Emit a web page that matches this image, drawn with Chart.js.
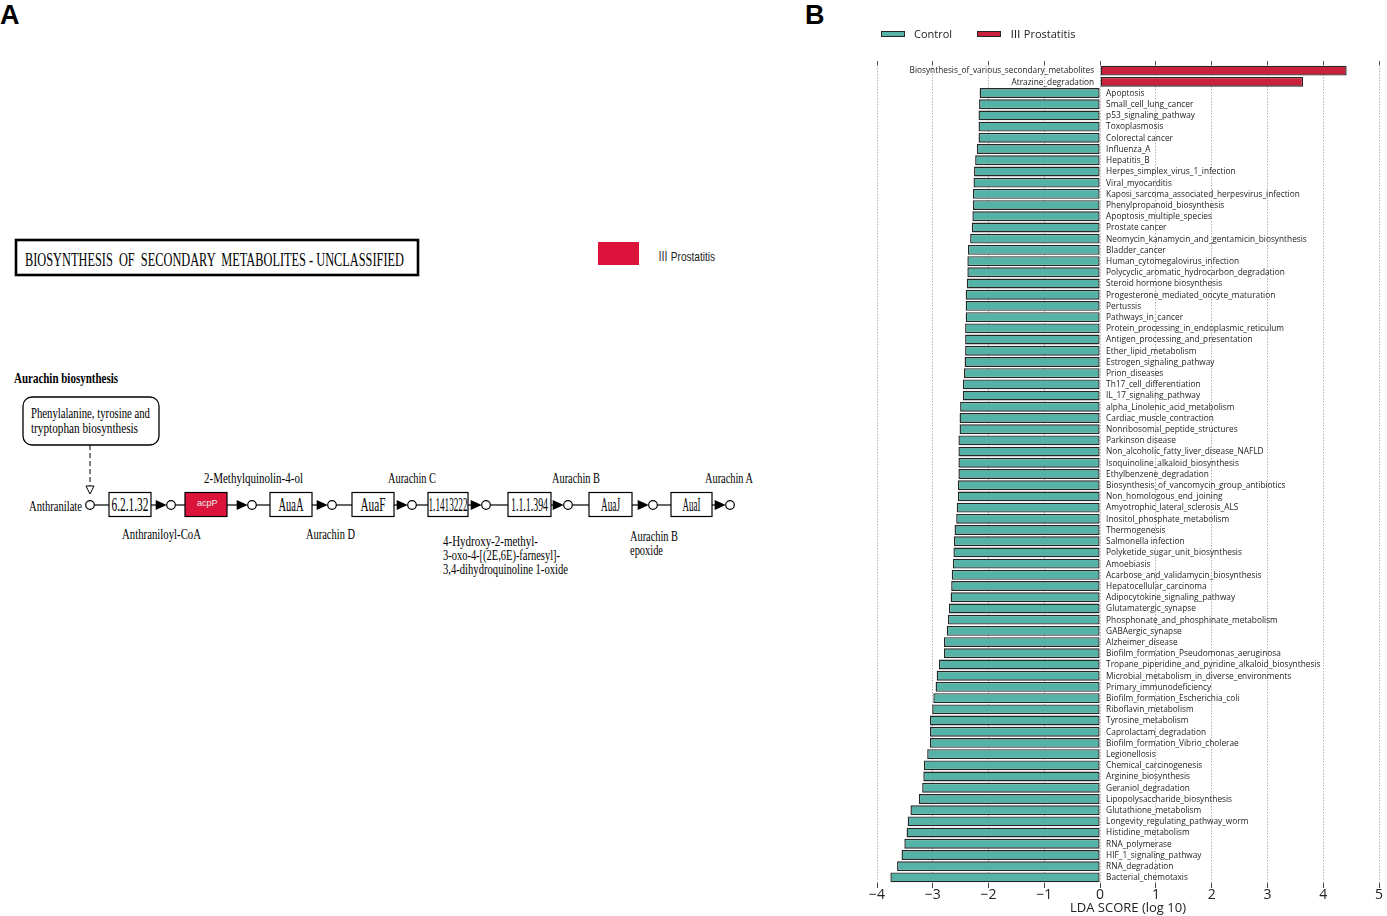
<!DOCTYPE html>
<html>
<head>
<meta charset="utf-8">
<script src="https://cdn.jsdelivr.net/npm/chart.js@4.4.1/dist/chart.umd.min.js"></script>
<style>
  html, body { margin: 0; padding: 0; background: #fff; }
  body { width: 1387px; height: 916px; position: relative; overflow: hidden; }
  #panelA { position: absolute; left: 0; top: 0; }
  #panelA text { white-space: pre; }
  #wrapB { position: absolute; left: 830px; top: 0; width: 557px; height: 916px; }
</style>
</head>
<body>

<svg id="panelA" width="830" height="916" xmlns="http://www.w3.org/2000/svg"
     font-family="'Liberation Serif', 'Times New Roman', serif">
  <text x="0" y="24" font-family="'Liberation Sans', Arial, sans-serif" font-weight="bold" font-size="27">A</text>
  <text x="805" y="24" font-family="'Liberation Sans', Arial, sans-serif" font-weight="bold" font-size="27">B</text>

  <!-- map title -->
  <rect x="16" y="240" width="402" height="35" fill="none" stroke="#000" stroke-width="2.6"/>
  <text x="25" y="266" font-size="19" textLength="379" lengthAdjust="spacingAndGlyphs">BIOSYNTHESIS  OF  SECONDARY  METABOLITES - UNCLASSIFIED</text>

  <!-- group key -->
  <rect x="598" y="242" width="41" height="23" fill="#DC143C"/>
  <text x="658" y="261" font-family="'Liberation Sans', 'Noto Sans CJK SC', Arial, sans-serif" font-size="13" textLength="57" lengthAdjust="spacingAndGlyphs" fill="#222">Ⅲ Prostatitis</text>

  <text x="14" y="383" font-size="14" font-weight="bold" textLength="104" lengthAdjust="spacingAndGlyphs">Aurachin biosynthesis</text>
  <rect x="23" y="397" width="136" height="48" rx="9" fill="none" stroke="#000" stroke-width="1.3"/>
  <text x="31" y="418" font-size="15" textLength="119" lengthAdjust="spacingAndGlyphs">Phenylalanine, tyrosine and</text>
  <text x="31" y="433" font-size="15" textLength="107" lengthAdjust="spacingAndGlyphs">tryptophan biosynthesis</text>
  <line x1="90" y1="445" x2="90" y2="486" stroke="#000" stroke-width="1" stroke-dasharray="5,3"/>
  <polygon points="86,486 94,486 90,494" fill="#fff" stroke="#000" stroke-width="1"/>

  <g id="chain"></g>

  <g font-size="14.5">
    <text x="29" y="511" textLength="53" lengthAdjust="spacingAndGlyphs">Anthranilate</text>
    <text x="204" y="483" textLength="99" lengthAdjust="spacingAndGlyphs">2-Methylquinolin-4-ol</text>
    <text x="122" y="539" textLength="79" lengthAdjust="spacingAndGlyphs">Anthraniloyl-CoA</text>
    <text x="306" y="539" textLength="49" lengthAdjust="spacingAndGlyphs">Aurachin D</text>
    <text x="388" y="483" textLength="48" lengthAdjust="spacingAndGlyphs">Aurachin C</text>
    <text x="552" y="483" textLength="48" lengthAdjust="spacingAndGlyphs">Aurachin B</text>
    <text x="705" y="483" textLength="48" lengthAdjust="spacingAndGlyphs">Aurachin A</text>
    <text x="443" y="546" textLength="95" lengthAdjust="spacingAndGlyphs">4-Hydroxy-2-methyl-</text>
    <text x="443" y="560" textLength="117" lengthAdjust="spacingAndGlyphs">3-oxo-4-[(2E,6E)-farnesyl]-</text>
    <text x="443" y="574" textLength="125" lengthAdjust="spacingAndGlyphs">3,4-dihydroquinoline 1-oxide</text>
    <text x="630" y="541" textLength="48" lengthAdjust="spacingAndGlyphs">Aurachin B</text>
    <text x="630" y="555" textLength="33" lengthAdjust="spacingAndGlyphs">epoxide</text>
  </g>
</svg>

<div id="wrapB"><canvas id="ldaChart"></canvas></div>

<script>
// ---------------------- Data ----------------------
const prostatitisPathways = [
  "Biosynthesis_of_various_secondary_metabolites",
  "Atrazine_degradation"
];
const prostatitisScores = [4.42, 3.64];

const controlPathways = [
  "Apoptosis", "Small_cell_lung_cancer", "p53_signaling_pathway", "Toxoplasmosis",
  "Colorectal cancer", "Influenza_A", "Hepatitis_B", "Herpes_simplex_virus_1_infection",
  "Viral_myocarditis", "Kaposi_sarcoma_associated_herpesvirus_infection",
  "Phenylpropanoid_biosynthesis", "Apoptosis_multiple_species", "Prostate cancer",
  "Neomycin_kanamycin_and_gentamicin_biosynthesis", "Bladder_cancer",
  "Human_cytomegalovirus_infection", "Polycyclic_aromatic_hydrocarbon_degradation",
  "Steroid hormone biosynthesis", "Progesterone_mediated_oocyte_maturation", "Pertussis",
  "Pathways_in_cancer", "Protein_processing_in_endoplasmic_reticulum",
  "Antigen_processing_and_presentation", "Ether_lipid_metabolism",
  "Estrogen_signaling_pathway", "Prion_diseases", "Th17_cell_differentiation",
  "IL_17_signaling_pathway", "alpha_Linolenic_acid_metabolism", "Cardiac_muscle_contraction",
  "Nonribosomal_peptide_structures", "Parkinson disease",
  "Non_alcoholic_fatty_liver_disease_NAFLD", "Isoquinoline_alkaloid_biosynthesis",
  "Ethylbenzene_degradation", "Biosynthesis_of_vancomycin_group_antibiotics",
  "Non_homologous_end_joining", "Amyotrophic_lateral_sclerosis_ALS",
  "Inositol_phosphate_metabolism", "Thermogenesis", "Salmonella infection",
  "Polyketide_sugar_unit_biosynthesis", "Amoebiasis", "Acarbose_and_validamycin_biosynthesis",
  "Hepatocellular_carcinoma", "Adipocytokine_signaling_pathway", "Glutamatergic_synapse",
  "Phosphonate_and_phosphinate_metabolism", "GABAergic_synapse", "Alzheimer_disease",
  "Biofilm_formation_Pseudomonas_aeruginosa",
  "Tropane_piperidine_and_pyridine_alkaloid_biosynthesis",
  "Microbial_metabolism_in_diverse_environments", "Primary_immunodeficiency",
  "Biofilm_formation_Escherichia_coli", "Riboflavin_metabolism", "Tyrosine_metabolism",
  "Caprolactam_degradation", "Biofilm_formation_Vibrio_cholerae", "Legionellosis",
  "Chemical_carcinogenesis", "Arginine_biosynthesis", "Geraniol_degradation",
  "Lipopolysaccharide_biosynthesis", "Glutathione_metabolism",
  "Longevity_regulating_pathway_worm", "Histidine_metabolism", "RNA_polymerase",
  "HIF_1_signaling_pathway", "RNA_degradation", "Bacterial_chemotaxis"
];
const controlScores = [
  -2.16, -2.17, -2.18, -2.18, -2.18, -2.21, -2.24, -2.26, -2.27, -2.28,
  -2.28, -2.29, -2.30, -2.33, -2.37, -2.38, -2.38, -2.39, -2.41, -2.41,
  -2.41, -2.42, -2.42, -2.42, -2.43, -2.44, -2.46, -2.46, -2.51, -2.52,
  -2.52, -2.54, -2.54, -2.54, -2.54, -2.55, -2.55, -2.57, -2.58, -2.61,
  -2.62, -2.63, -2.64, -2.66, -2.67, -2.68, -2.71, -2.73, -2.75, -2.80,
  -2.80, -2.89, -2.93, -2.95, -2.99, -3.01, -3.05, -3.05, -3.05, -3.10,
  -3.16, -3.17, -3.19, -3.25, -3.40, -3.45, -3.47, -3.51, -3.56, -3.64,
  -3.76
];

const groupNames = ["Control", "Ⅲ Prostatitis"];
const xTickValues = [-4, -3, -2, -1, 0, 1, 2, 3, 4, 5];

// ---------------------- Styles ----------------------
const TEAL = "#54B3A6";
const CRIMSON = "#C9203C";
const EDGE = "#262626";
const SANS = '"Open Sans", "Noto Sans CJK SC", sans-serif';

// ---------------------- Panel A: pathway chain ----------------------
(function drawChain() {
  const NS = "http://www.w3.org/2000/svg";
  const g = document.getElementById("chain");
  const mk = (tag, attrs, text) => {
    const el = document.createElementNS(NS, tag);
    for (const k in attrs) el.setAttribute(k, attrs[k]);
    if (text) el.textContent = text;
    g.appendChild(el);
    return el;
  };
  const cy = 505;
  const r = 4.3;
  const nodes = [90, 171, 252, 332, 412, 486, 568, 653, 730];
  const boxes = [
    { x: 109, w: 42, t: "6.2.1.32", len: 37 },
    { x: 185, w: 42, t: "acpP", hit: true },
    { x: 270, w: 42, t: "AuaA", len: 25 },
    { x: 352, w: 42, t: "AuaF", len: 25 },
    { x: 428, w: 40, t: "1.1413222", len: 39 },
    { x: 508, w: 43, t: "1.1.1.394", len: 37 },
    { x: 589, w: 43, t: "AuaJ", len: 19 },
    { x: 671, w: 41, t: "AuaI", len: 18 }
  ];
  boxes.forEach((b, i) => {
    const a = nodes[i], nxt = nodes[i + 1];
    mk("line", { x1: a + r, y1: cy, x2: b.x, y2: cy, stroke: "#000", "stroke-width": 1.2 });
    mk("line", { x1: b.x + b.w, y1: cy, x2: nxt - r - 9, y2: cy, stroke: "#000", "stroke-width": 1.2 });
    mk("polygon", { points: `${nxt - r - 11},${cy - 5} ${nxt - r - 11},${cy + 5} ${nxt - r},${cy}`, fill: "#000" });
    mk("rect", { x: b.x, y: 492.5, width: b.w, height: 24,
      fill: b.hit ? "#DC143C" : "#fff", stroke: "#000", "stroke-width": 1.2 });
    if (b.hit) {
      mk("text", { x: b.x + 12, y: 506, "font-family": "'Liberation Sans', Arial, sans-serif",
        "font-size": 9, fill: "#eee" }, b.t);
    } else {
      mk("text", { x: b.x + b.w / 2, y: 511, "text-anchor": "middle", "font-size": 19,
        textLength: b.len, lengthAdjust: "spacingAndGlyphs" }, b.t);
    }
  });
  nodes.forEach(x => mk("circle", { cx: x, cy: cy, r: r, fill: "#fff", stroke: "#000", "stroke-width": 1.2 }));
})();

// ---------------------- Panel B: LDA bars ----------------------
const pathwayNames = prostatitisPathways.concat(controlPathways);
const prostatitisData = prostatitisScores.concat(controlPathways.map(() => null));
const controlData = prostatitisPathways.map(() => null).concat(controlScores);

const pathwayLabels = {
  id: "pathwayLabels",
  afterDatasetsDraw(chart) {
    const { ctx, scales: { x, y } } = chart;
    const x0 = x.getPixelForValue(0);
    ctx.save();
    ctx.font = "8.3px " + SANS;
    ctx.fillStyle = "#222";
    ctx.textBaseline = "middle";
    chart.data.labels.forEach((name, i) => {
      const yy = y.getPixelForValue(i);
      const up = prostatitisData[i] != null;
      ctx.textAlign = up ? "right" : "left";
      ctx.fillText(name, up ? x0 - 6 : x0 + 6, yy + 0.5);
    });
    ctx.restore();
  }
};

const groupKey = {
  id: "groupKey",
  afterDraw(chart) {
    const { ctx, chartArea } = chart;
    const items = [
      { name: groupNames[0], color: TEAL, x: chartArea.left + 4 },
      { name: groupNames[1], color: CRIMSON, x: chartArea.left + 100 }
    ];
    ctx.save();
    ctx.font = "11px " + SANS;
    ctx.textBaseline = "middle";
    items.forEach(it => {
      ctx.fillStyle = it.color;
      ctx.fillRect(it.x, 31, 24, 6);
      ctx.strokeStyle = EDGE;
      ctx.lineWidth = 1;
      ctx.strokeRect(it.x + 0.5, 31.5, 23, 5);
      ctx.fillStyle = "#222";
      ctx.fillText(it.name, it.x + 33, 34.5);
    });
    ctx.restore();
  }
};

const barStyle = {
  borderColor: EDGE,
  borderWidth: 1.4,
  borderSkipped: false,
  grouped: false,
  barPercentage: 0.88,
  categoryPercentage: 1
};

new Chart(document.getElementById("ldaChart"), {
  type: "bar",
  data: {
    labels: pathwayNames,
    datasets: [
      Object.assign({ label: groupNames[0], data: controlData, backgroundColor: TEAL }, barStyle),
      Object.assign({ label: groupNames[1], data: prostatitisData, backgroundColor: CRIMSON }, barStyle)
    ]
  },
  options: {
    indexAxis: "y",
    responsive: true,
    maintainAspectRatio: false,
    animation: false,
    layout: { padding: { left: 47, right: 8, top: 61, bottom: 0 } },
    plugins: {
      legend: { display: false },
      tooltip: { enabled: false }
    },
    scales: {
      y: { display: false, offset: true },
      x: {
        type: "linear",
        position: "bottom",
        min: -4,
        max: 5,
        z: 1,
        afterBuildTicks: s => { s.ticks = xTickValues.map(v => ({ value: v })); },
        ticks: {
          color: "#222",
          padding: 0,
          font: { family: "Open Sans", size: 14, lineHeight: 1 },
          callback: v => String(v).replace("-", "\u2212")
        },
        grid: {
          color: "rgba(0,0,0,0.3)",
          lineWidth: 1,
          tickLength: 5,
          tickColor: "#444",
          tickBorderDash: []
        },
        border: { display: false, dash: [1.5, 1.5] },
        title: {
          display: true,
          text: "LDA SCORE (log 10)",
          color: "#222",
          font: { family: "Open Sans", size: 13, lineHeight: 1 },
          padding: { top: 0, bottom: 1 }
        }
      },
      x2: {
        type: "linear",
        position: "top",
        min: -4,
        max: 5,
        afterBuildTicks: s => { s.ticks = xTickValues.map(v => ({ value: v })); },
        ticks: { display: false },
        grid: { drawOnChartArea: false, tickLength: 4, tickColor: "#555" },
        border: { display: false }
      }
    }
  },
  plugins: [pathwayLabels, groupKey]
});
</script>
</body>
</html>
